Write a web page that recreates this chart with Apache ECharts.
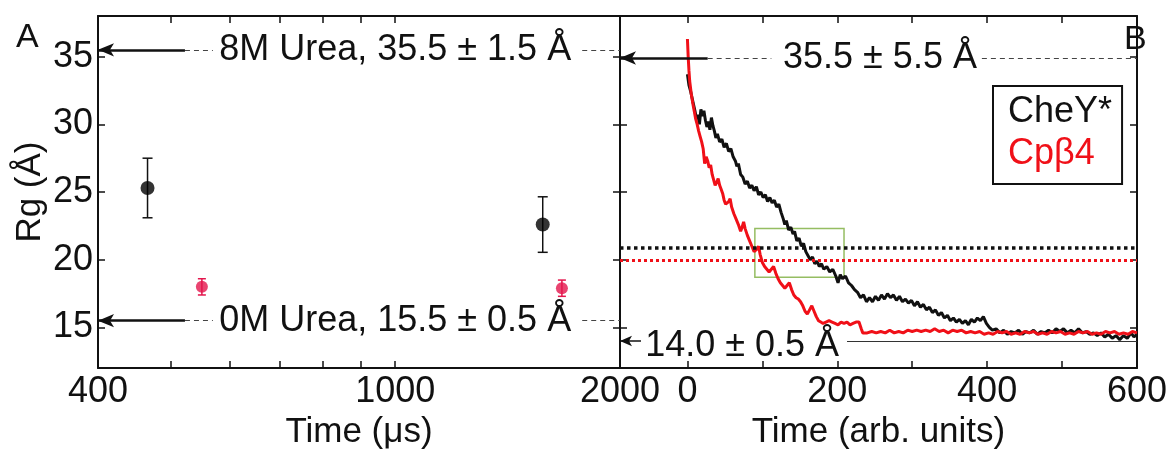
<!DOCTYPE html>
<html>
<head>
<meta charset="utf-8">
<script src="https://cdn.jsdelivr.net/npm/echarts@6/dist/echarts.min.js"></script>
<style>
html, body { margin: 0; background: #fff; }
#chart { width: 1170px; height: 455px; }
</style>
</head>
<body>
<div id="chart"></div>
<script>
// panel A: Rg vs time (log axis)
var timeCheY = [466, 1576];
var rgCheY = [25.3, 22.6];
var errCheY = [2.2, 2.05];
var timeCp = [551, 1672];
var rgCp = [18.0, 17.9];
var errCp = [0.6, 0.6];
var xLabelsA = [400, 1000, 2000];
var xTicksA = [500, 600, 700, 800, 900, 1000];
var yTicks = [15, 20, 25, 30, 35];

// panel B: simulated Rg traces
var tCheY = [0, 2, 4, 6, 8, 10, 12, 14, 16, 18, 20, 22, 24, 26, 28, 30, 32, 34, 36, 38, 40, 43, 46, 49, 52, 55, 58, 61, 64, 66, 68, 71, 74, 77, 80, 83, 86, 89, 92, 95, 98, 101, 104, 107, 110, 113, 116, 119, 122, 125, 128, 130, 132, 135, 138, 141, 143, 146, 149, 152, 155, 158, 161, 164, 167, 170, 173, 176, 179, 182, 186, 190, 194, 198, 201, 204, 207, 211, 215, 219, 223, 227, 231, 235, 239, 243, 247, 251, 255, 259, 263, 267, 271, 275, 279, 283, 287, 291, 295, 299, 303, 307, 311, 315, 319, 323, 327, 331, 335, 339, 343, 347, 351, 355, 359, 363, 367, 371, 375, 379, 383, 387, 391, 395, 399, 403, 407, 412, 417, 422, 427, 432, 437, 442, 447, 452, 457, 462, 467, 472, 477, 482, 487, 492, 497, 502, 507, 512, 517, 522, 527, 532, 537, 542, 547, 552, 557, 562, 567, 572, 577, 582, 587, 592, 596, 600];
var rCheY = [33.7, 32.9, 32.5, 32.0, 31.5, 31.0, 30.4, 30.7, 30.0, 31.1, 30.6, 31.0, 30.3, 29.8, 30.2, 29.6, 30.5, 29.9, 29.5, 29.0, 29.3, 28.7, 28.9, 28.3, 28.6, 28.0, 28.2, 27.6, 27.3, 26.9, 27.1, 26.3, 26.1, 25.6, 25.8, 25.3, 25.5, 25.1, 25.4, 24.8, 25.0, 24.6, 24.8, 24.3, 24.6, 24.2, 24.4, 23.9, 24.1, 23.5, 23.0, 22.6, 22.9, 22.2, 22.4, 21.9, 22.1, 21.4, 21.6, 21.0, 21.2, 20.6, 20.3, 20.0, 20.2, 19.7, 19.9, 19.5, 19.7, 19.3, 19.5, 19.1, 19.3, 18.8, 18.3, 18.9, 18.6, 18.8, 18.3, 18.1, 17.8, 17.6, 17.2, 17.4, 16.9, 17.2, 16.9, 17.3, 17.0, 17.4, 17.1, 17.5, 17.2, 17.4, 17.0, 17.3, 16.9, 17.1, 16.8, 17.0, 16.6, 16.9, 16.5, 16.7, 16.3, 16.5, 16.1, 16.3, 15.9, 16.1, 15.7, 15.9, 15.5, 15.7, 15.4, 15.6, 15.3, 15.5, 15.2, 15.6, 15.4, 15.7, 15.5, 15.8, 15.3, 15.0, 14.8, 14.9, 14.6, 14.8, 14.5, 14.7, 14.6, 14.8, 14.5, 14.7, 14.6, 14.8, 14.5, 14.7, 14.6, 14.8, 14.6, 14.9, 14.7, 14.9, 14.6, 14.8, 14.6, 14.9, 14.6, 14.7, 14.5, 14.6, 14.4, 14.6, 14.3, 14.5, 14.2, 14.4, 14.1, 14.4, 14.2, 14.6, 14.3, 14.5];
var tCp = [0, 1, 2, 3, 5, 7, 9, 11, 13, 15, 17, 19, 21, 23, 25, 27, 29, 31, 33, 35, 37, 39, 41, 43, 45, 47, 49, 51, 53, 55, 57, 59, 62, 65, 68, 71, 73, 75, 77, 80, 83, 86, 89, 91, 93, 95, 97, 100, 103, 106, 109, 112, 115, 118, 121, 124, 127, 130, 133, 136, 139, 142, 145, 148, 151, 154, 157, 160, 163, 166, 169, 172, 175, 178, 181, 185, 189, 193, 197, 201, 205, 209, 213, 217, 221, 225, 229, 232, 234, 240, 246, 252, 258, 264, 270, 276, 282, 288, 294, 300, 306, 312, 318, 324, 330, 336, 342, 348, 354, 360, 366, 372, 378, 384, 390, 396, 402, 408, 414, 420, 426, 432, 438, 444, 450, 456, 462, 468, 474, 480, 486, 492, 498, 504, 510, 516, 522, 528, 534, 540, 546, 552, 558, 564, 570, 576, 582, 588, 594, 600];
var rCp = [36.3, 35.0, 34.0, 33.2, 32.3, 31.6, 31.0, 30.4, 30.0, 29.5, 29.1, 28.7, 28.2, 27.1, 27.6, 27.3, 26.8, 27.0, 26.3, 25.9, 25.5, 25.7, 26.0, 25.5, 25.2, 24.9, 24.4, 24.1, 24.0, 24.3, 24.5, 23.9, 23.4, 23.0, 22.6, 22.1, 22.4, 22.8, 22.3, 21.8, 21.4, 21.0, 20.6, 20.5, 20.8, 21.0, 20.4, 19.8, 19.5, 19.3, 19.1, 19.3, 19.5, 19.0, 18.6, 18.3, 18.1, 17.9, 18.1, 18.3, 17.8, 17.4, 17.2, 17.1, 16.9, 16.6, 16.2, 16.0, 16.3, 16.6, 16.2, 15.8, 15.5, 15.4, 15.3, 15.4, 15.5, 15.4, 15.3, 15.2, 15.4, 15.3, 15.4, 15.2, 15.3, 15.4, 15.4, 14.9, 14.6, 14.6, 14.7, 14.6, 14.7, 14.6, 14.8, 14.6, 14.7, 14.6, 14.8, 14.7, 14.8, 14.7, 14.8, 14.7, 14.9, 14.7, 14.8, 14.6, 14.8, 14.7, 14.8, 14.6, 14.7, 14.6, 14.7, 14.5, 14.6, 14.5, 14.7, 14.6, 14.7, 14.5, 14.6, 14.5, 14.7, 14.6, 14.7, 14.5, 14.6, 14.5, 14.7, 14.6, 14.7, 14.5, 14.6, 14.5, 14.7, 14.6, 14.7, 14.5, 14.6, 14.5, 14.7, 14.6, 14.7, 14.5, 14.6, 14.5, 14.7, 14.6];
var xLabelsB = [0, 200, 400, 600];
var xTicksB = [0, 100, 200, 300, 400, 500, 600];

// reference Rg levels
var ureaLevels = [35.5, 15.5];
var ureaTexts = ['8M Urea, 35.5 ± 1.5 Å', '0M Urea, 15.5 ± 0.5 Å'];
var simLevels = [34.9, 14.0];
var simTexts = ['35.5 ± 5.5 Å', '14.0 ± 0.5 Å'];
var avgCheY = 20.9;
var avgCp = 20.0;
var boxT = [90, 209];
var boxRg = [22.3, 18.7];

var FONT = 'Liberation Sans, Arial, sans-serif';
var INK = '#111';
var RED = '#f01018';
var PINK = '#e3154c';
var lg = Math.log10;

function pairs(xs, ys) {
  var out = [];
  for (var i = 0; i < xs.length; i++) out.push([xs[i], ys[i]]);
  return out;
}

function errBars(ts, vals, errs) {
  var out = [];
  for (var i = 0; i < ts.length; i++) out.push([lg(ts[i]), vals[i] - errs[i], vals[i] + errs[i]]);
  return out;
}

function errSeries(data, color, cap) {
  return {
    type: 'custom', xAxisIndex: 0, yAxisIndex: 0, silent: true,
    encode: { x: 0, y: [1, 2] },
    data: data,
    renderItem: function (params, api) {
      var lo = api.coord([api.value(0), api.value(1)]);
      var hi = api.coord([api.value(0), api.value(2)]);
      var st = { stroke: color, lineWidth: 1.5 };
      return {
        type: 'group',
        children: [
          { type: 'line', shape: { x1: lo[0], y1: lo[1], x2: hi[0], y2: hi[1] }, style: st },
          { type: 'line', shape: { x1: lo[0] - cap, y1: lo[1], x2: lo[0] + cap, y2: lo[1] }, style: st },
          { type: 'line', shape: { x1: hi[0] - cap, y1: hi[1], x2: hi[0] + cap, y2: hi[1] }, style: st }
        ]
      };
    }
  };
}

// arrow + dashed leader line + centred text + dashed tail, in axis coords
function arrowLines(y, xa, xb, xc, xd, xe) {
  return [
    [{ coord: [xa, y], symbol: 'arrow', symbolSize: [10, 16] }, { coord: [xb, y], symbol: 'none', lineStyle: { type: 'solid', width: 2.5, color: INK } }],
    [{ coord: [xb, y], symbol: 'none' }, { coord: [xc, y], symbol: 'none', lineStyle: { type: [5, 4], width: 1, color: '#444' } }],
    [{ coord: [xd, y], symbol: 'none' }, { coord: [xe, y], symbol: 'none', lineStyle: { type: [5, 4], width: 1, color: '#444' } }]
  ];
}

function textPoint(x, y, text) {
  return {
    coord: [x, y], symbol: 'rect', symbolSize: 0,
    label: { show: true, position: 'inside', formatter: text, fontSize: 36, color: INK, fontFamily: FONT }
  };
}

function axisBase(grid, pos, min, max) {
  return {
    type: 'value', gridIndex: grid, position: pos, min: min, max: max,
    axisLine: { show: true, onZero: false, lineStyle: { color: INK, width: 2 } },
    axisTick: { show: true, inside: true, length: 7, lineStyle: { color: INK, width: 1.5 } },
    axisLabel: { show: false },
    splitLine: { show: false }
  };
}

var chart = echarts.init(document.getElementById('chart'));

var xA = axisBase(0, 'bottom', lg(400), lg(2000));
xA.axisTick.customValues = xTicksA.map(lg);
xA.axisLabel = {
  show: true, customValues: xLabelsA.map(lg), margin: 6,
  fontSize: 36, color: INK, fontFamily: FONT,
  formatter: function (v) { return Math.round(Math.pow(10, v)); }
};
xA.name = 'Time (μs)';
xA.nameLocation = 'middle';
xA.nameGap = 24;
xA.nameTextStyle = { fontSize: 35, color: INK, fontFamily: FONT };

var xAtop = axisBase(0, 'top', lg(400), lg(2000));
xAtop.axisTick.customValues = xTicksA.map(lg);

var xB = axisBase(1, 'bottom', -90, 600);
xB.axisTick.customValues = xTicksB;
xB.axisLabel = { show: true, customValues: xLabelsB, margin: 6, fontSize: 36, color: INK, fontFamily: FONT };
xB.name = 'Time (arb. units)';
xB.nameLocation = 'middle';
xB.nameGap = 24;
xB.nameTextStyle = { fontSize: 35, color: INK, fontFamily: FONT };

var xBtop = axisBase(1, 'top', -90, 600);
xBtop.axisTick.customValues = xTicksB;

var yA = axisBase(0, 'left', 12, 38);
yA.axisTick.customValues = yTicks;
yA.axisLabel = { show: true, customValues: yTicks, margin: 5, fontSize: 36, color: INK, fontFamily: FONT };
yA.name = 'Rg (Å)';
yA.nameLocation = 'middle';
yA.nameGap = 50;
yA.nameTextStyle = { fontSize: 35, color: INK, fontFamily: FONT };

var yAright = axisBase(0, 'right', 12, 38);
yAright.axisTick.customValues = yTicks;
var yB = axisBase(1, 'left', 12, 38);
yB.axisTick.customValues = yTicks;
var yBright = axisBase(1, 'right', 12, 38);
yBright.axisTick.customValues = yTicks;

var markA = [];
var textA = [];
for (var i = 0; i < ureaLevels.length; i++) {
  markA = markA.concat(arrowLines(ureaLevels[i], lg(400), lg(523), lg(570), lg(1780), lg(2000)));
  textA.push(textPoint(lg(1000), ureaLevels[i], ureaTexts[i]));
}

var option = {
  animation: false,
  textStyle: { fontFamily: FONT },
  title: [
    { text: 'A', left: 11, top: 16, textStyle: { fontSize: 34, fontWeight: 'normal', color: INK, fontFamily: FONT } },
    { text: 'B', left: 1119, top: 18, textStyle: { fontSize: 34, fontWeight: 'normal', color: INK, fontFamily: FONT } }
  ],
  legend: {
    orient: 'vertical', left: 993, top: 86,
    padding: [8, 10, 12, 10], itemGap: 6,
    itemWidth: 0, itemHeight: 0, icon: 'rect',
    borderColor: INK, borderWidth: 2, backgroundColor: '#fff',
    textStyle: { fontSize: 36, fontFamily: FONT },
    data: [
      { name: 'CheY*', textStyle: { color: INK } },
      { name: 'Cpβ4', textStyle: { color: RED } }
    ]
  },
  grid: [
    { left: 98, top: 16, width: 522, height: 366 },
    { left: 620, top: 16, width: 528, height: 366 }
  ],
  xAxis: [xA, xAtop, xB, xBtop],
  yAxis: [yA, yAright, yB, yBright],
  series: [
    errSeries(errBars(timeCheY, rgCheY, errCheY), INK, 5),
    errSeries(errBars(timeCp, rgCp, errCp), PINK, 4),
    {
      name: 'CheY*', type: 'scatter', xAxisIndex: 0, yAxisIndex: 0,
      symbolSize: 14, itemStyle: { color: '#000' },
      data: pairs(timeCheY.map(lg), rgCheY),
      markLine: { silent: true, symbol: 'none', label: { show: false }, data: markA },
      markPoint: { silent: true, data: textA }
    },
    {
      name: 'Cpβ4', type: 'scatter', xAxisIndex: 0, yAxisIndex: 0,
      symbolSize: 12, itemStyle: { color: PINK },
      data: pairs(timeCp.map(lg), rgCp)
    },
    {
      name: 'CheY*', type: 'line', xAxisIndex: 2, yAxisIndex: 2,
      showSymbol: false, color: INK, lineStyle: { color: INK, width: 3 },
      data: pairs(tCheY, rCheY),
      markLine: {
        silent: true, symbol: 'none', label: { show: false },
        data: [
          { yAxis: avgCheY, lineStyle: { color: INK, type: 'dotted', width: 3.5 } },
          { yAxis: avgCp, lineStyle: { color: RED, type: 'dotted', width: 3 } }
        ]
      },
      markArea: {
        silent: true,
        itemStyle: { color: 'rgba(0,0,0,0)', borderColor: '#95bd62', borderWidth: 1.5 },
        data: [[{ coord: [boxT[0], boxRg[0]] }, { coord: [boxT[1], boxRg[1]] }]]
      }
    },
    {
      name: 'Cpβ4', type: 'line', xAxisIndex: 2, yAxisIndex: 2,
      showSymbol: false, color: RED, lineStyle: { color: RED, width: 3 },
      data: pairs(tCp, rCp),
      markLine: {
        silent: true, symbol: 'none', label: { show: false },
        data: arrowLines(simLevels[0], -90, 27, 112, 393, 600).concat([
          [{ coord: [-90, simLevels[1]], symbol: 'arrow', symbolSize: [8, 12] }, { coord: [-62, simLevels[1]], symbol: 'none', lineStyle: { type: 'solid', width: 1.5, color: INK } }],
          [{ coord: [213, simLevels[1]], symbol: 'none' }, { coord: [600, simLevels[1]], symbol: 'none', lineStyle: { type: 'solid', width: 1, color: '#333' } }]
        ])
      },
      markPoint: {
        silent: true,
        data: [textPoint(257, simLevels[0], simTexts[0]), textPoint(73, 13.65, simTexts[1])]
      }
    }
  ]
};

chart.setOption(option);
</script>
</body>
</html>
